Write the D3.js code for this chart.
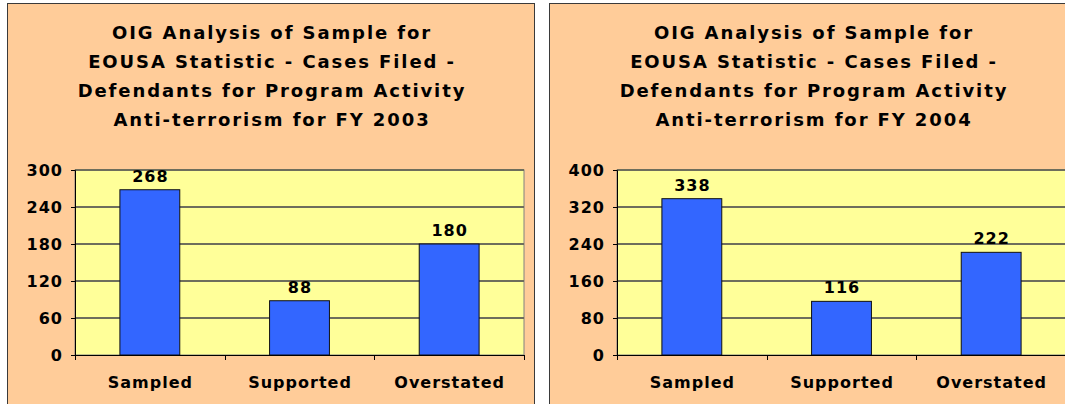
<!DOCTYPE html>
<html>
<head>
<meta charset="utf-8">
<script src="https://d3js.org/d3.v7.min.js"></script>
<style>
  body { margin: 0; background: #fff; }
  svg text { font-family: "DejaVu Sans", Verdana, sans-serif; font-weight: bold; fill: #000; }
</style>
</head>
<body>
<div id="chart"></div>
<script>
  var w = 1065,
      h = 404;

  // data
  var categories = ["Sampled", "Supported", "Overstated"];
  var values2003 = [268, 88, 180];
  var values2004 = [338, 116, 222];
  var ticks2003 = [0, 60, 120, 180, 240, 300];
  var ticks2004 = [0, 80, 160, 240, 320, 400];
  var title2003 = ["OIG Analysis of Sample for", "EOUSA Statistic - Cases Filed -",
                   "Defendants for Program Activity", "Anti-terrorism for FY 2003"];
  var title2004 = ["OIG Analysis of Sample for", "EOUSA Statistic - Cases Filed -",
                   "Defendants for Program Activity", "Anti-terrorism for FY 2004"];

  var svg = d3.select("#chart").append("svg")
      .attr("width", w)
      .attr("height", h);

  var panelW = 527,
      plotLeft = 68,
      plotW = 449,
      plotTop = 170,
      plotBottom = 355;

  function drawChart(px, title, values, ticks) {
    var g = svg.append("g").attr("transform", "translate(" + px + ",0)");

    // panel
    g.append("rect")
      .attr("x", 0.5).attr("y", 3.5)
      .attr("width", panelW).attr("height", h + 10)
      .attr("fill", "#FFCC99")
      .attr("stroke", "#3a3a3a")
      .attr("stroke-width", 1);

    // title
    g.selectAll("text.title").data(title)
      .enter().append("text")
      .attr("class", "title")
      .attr("x", panelW / 2 + 1.5)
      .attr("y", function(d, i) { return 39 + i * 29; })
      .attr("text-anchor", "middle")
      .style("font-size", "18px")
      .style("letter-spacing", "1.9px")
      .text(function(d) { return d; });

    var x = d3.scaleBand()
      .domain(categories)
      .range([plotLeft, plotLeft + plotW])
      .paddingInner(0.6)
      .paddingOuter(0.3);

    var y = d3.scaleLinear()
      .domain([0, ticks[ticks.length - 1]])
      .range([plotBottom, plotTop]);

    // plot area
    g.append("rect")
      .attr("x", plotLeft).attr("y", plotTop)
      .attr("width", plotW).attr("height", plotBottom - plotTop)
      .attr("fill", "#FFFF99")
      .attr("stroke", "#808080")
      .attr("stroke-width", 1);

    // gridlines
    g.selectAll("line.grid").data(ticks.slice(1))
      .enter().append("line")
      .attr("class", "grid")
      .attr("x1", plotLeft).attr("x2", plotLeft + plotW)
      .attr("y1", function(d) { return y(d); })
      .attr("y2", function(d) { return y(d); })
      .attr("stroke", "#6e6e5c")
      .attr("stroke-width", 2);

    // bars
    g.selectAll("rect.bar").data(values)
      .enter().append("rect")
      .attr("class", "bar")
      .attr("x", function(d, i) { return x(categories[i]); })
      .attr("y", function(d) { return y(d); })
      .attr("width", x.bandwidth())
      .attr("height", function(d) { return plotBottom - y(d); })
      .attr("fill", "#3366FF")
      .attr("stroke", "#111")
      .attr("stroke-width", 1);

    // value labels
    g.selectAll("text.val").data(values)
      .enter().append("text")
      .attr("class", "val")
      .attr("x", function(d, i) { return x(categories[i]) + x.bandwidth() / 2 + 0.5; })
      .attr("y", function(d) { return y(d) - 8; })
      .attr("text-anchor", "middle")
      .style("font-size", "16px")
      .style("letter-spacing", "1px")
      .text(function(d) { return d; });

    // y axis
    var yAxis = d3.axisLeft(y).tickValues(ticks).tickSize(4).tickPadding(8);
    var ya = g.append("g")
      .attr("transform", "translate(" + plotLeft + ",0)")
      .call(yAxis);
    ya.selectAll("text").style("font-size", "16px").style("letter-spacing", "1px").attr("fill", "#000");
    ya.select(".domain").attr("stroke", "#000");

    // x axis: ticks between categories, labels below
    var xa = g.append("g")
      .attr("transform", "translate(0," + plotBottom + ")");
    xa.append("line")
      .attr("x1", plotLeft).attr("x2", plotLeft + plotW)
      .attr("y1", 0.5).attr("y2", 0.5)
      .attr("stroke", "#000");
    var step = plotW / categories.length;
    xa.selectAll("line.tick").data(d3.range(categories.length + 1))
      .enter().append("line")
      .attr("class", "tick")
      .attr("x1", function(d) { return Math.round(plotLeft + d * step) + 0.5; })
      .attr("x2", function(d) { return Math.round(plotLeft + d * step) + 0.5; })
      .attr("y1", 0).attr("y2", 5)
      .attr("stroke", "#000");
    xa.selectAll("text").data(categories)
      .enter().append("text")
      .attr("x", function(d) { return x(d) + x.bandwidth() / 2 + 0.5; })
      .attr("y", 33)
      .attr("text-anchor", "middle")
      .style("font-size", "16px")
      .style("letter-spacing", "1px")
      .text(function(d) { return d; });
  }

  drawChart(7, title2003, values2003, ticks2003);
  drawChart(549, title2004, values2004, ticks2004);
</script>
</body>
</html>
